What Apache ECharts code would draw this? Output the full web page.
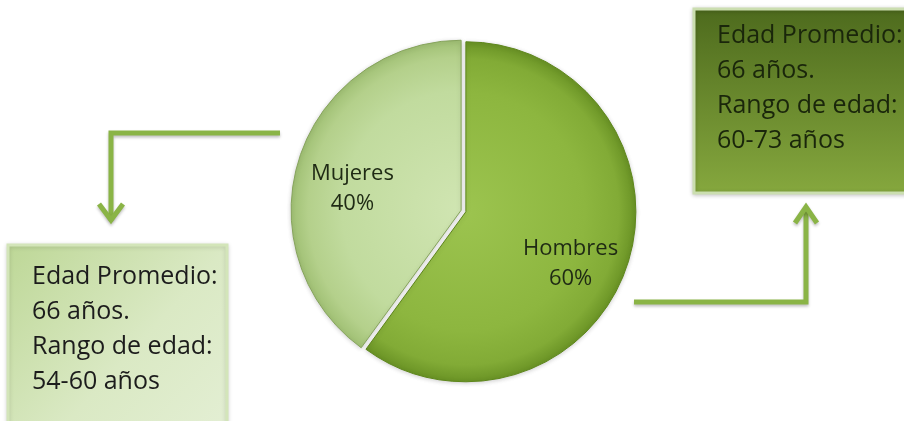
<!DOCTYPE html>
<html>
<head>
<meta charset="utf-8">
<script src="https://cdn.jsdelivr.net/npm/echarts@6/dist/echarts.min.js"></script>
<style>
  html, body { margin: 0; padding: 0; background: #ffffff; }
  #chart { width: 904px; height: 421px; }
</style>
</head>
<body>
<div id="chart"></div>
<script>
// ---- Data ----
const categories = ['Hombres', 'Mujeres'];
const values = [60, 40];
const avgAgeText = ['66 años.', '66 años.'];
const ageRangeText = ['60-73 años', '54-60 años'];
const avgLabel = 'Edad Promedio:';
const rangeLabel = 'Rango de edad:';

// ---- Styles ----
const FONT = 'Open Sans';
const CX = 463.5, CY = 211, R = 170;

function radial(stops) {
  return { type: 'radial', x: CX, y: CY, r: R, global: true,
    colorStops: stops.map(s => ({ offset: s[0], color: s[1] })) };
}
const sliceStyles = [
  { color: radial([[0, '#9cc44f'], [0.7, '#8db63f'], [0.9, '#82ab36'], [1, '#6a9325']]),
    borderColor: '#5e871c', borderWidth: 1 },
  { color: radial([[0, '#d0e5b2'], [0.7, '#c1db9e'], [0.9, '#b4d08b'], [1, '#a0c074']]),
    borderColor: '#86a45c', borderWidth: 1 }
];
const labelShift = [[21, 25], [-25, 6]];

const chart = echarts.init(document.getElementById('chart'), null, { renderer: 'canvas' });

function boxText(i) {
  return [avgLabel, avgAgeText[i], rangeLabel, ageRangeText[i]].join('\n');
}

const arrowStyle = { stroke: '#8ab446', lineWidth: 5, fill: null, lineJoin: 'miter', lineCap: 'butt',
  shadowBlur: 3, shadowColor: 'rgba(0,0,0,0.25)', shadowOffsetY: 2 };

const option = {
  animation: false,
  backgroundColor: '#ffffff',
  series: [{
    type: 'pie',
    center: [CX, CY],
    radius: R,
    startAngle: 90,
    clockwise: true,
    selectedMode: 'multiple',
    selectedOffset: 2.5,
    silent: true,
    data: categories.map((c, i) => ({
      name: c, value: values[i], selected: true,
      itemStyle: Object.assign({ shadowBlur: 4, shadowColor: 'rgba(0,0,0,0.18)', shadowOffsetY: 1 }, sliceStyles[i])
    })),
    label: {
      show: true,
      position: 'inside',
      formatter: '{b}\n{d}%',
      fontFamily: FONT,
      fontSize: 22,
      lineHeight: 30,
      color: '#1f2a14',
      align: 'center'
    },
    labelLine: { show: false },
    labelLayout: function (p) {
      const s = labelShift[p.dataIndex];
      return { dx: s[0], dy: s[1] };
    }
  }],
  graphic: [
    // right box (Hombres)
    { type: 'rect', shape: { x: 694, y: 9, width: 220, height: 184 },
      style: { fill: { type: 'linear', x: 0, y: 0, x2: 0, y2: 1, colorStops: [
        { offset: 0, color: '#4d6a1d' }, { offset: 1, color: '#86a83e' }] },
        stroke: '#cbdeb0', lineWidth: 3,
        shadowBlur: 4, shadowColor: 'rgba(0,0,0,0.2)', shadowOffsetY: 1 } },
    { type: 'text', x: 717, y: 18,
      style: { text: boxText(0), fontFamily: FONT, fontSize: 25, lineHeight: 35, fill: '#1a260b' } },
    // left box (Mujeres)
    { type: 'rect', shape: { x: 8, y: 245, width: 219, height: 200 },
      style: { fill: { type: 'linear', x: 0, y: 0, x2: 1, y2: 1, colorStops: [
        { offset: 0, color: '#bdd796' }, { offset: 0.55, color: '#dae9c4' }, { offset: 1, color: '#e4efd5' }] },
        stroke: '#d3e5b9', lineWidth: 3,
        shadowBlur: 4, shadowColor: 'rgba(0,0,0,0.15)', shadowOffsetY: 1 } },
    { type: 'text', x: 32, y: 259,
      style: { text: boxText(1), fontFamily: FONT, fontSize: 25, lineHeight: 35, fill: '#1c1c1c' } },
    // left arrow
    { type: 'polyline', shape: { points: [[280, 133], [111, 133], [111, 219]] }, style: arrowStyle },
    { type: 'polyline', shape: { points: [[99, 204], [111, 220], [123, 204]] }, style: arrowStyle },
    // right arrow
    { type: 'polyline', shape: { points: [[634, 302], [806, 302], [806, 208]] }, style: arrowStyle },
    { type: 'polyline', shape: { points: [[795, 223], [806, 207], [817, 223]] }, style: arrowStyle }
  ]
};
chart.setOption(option);
</script>
</body>
</html>
